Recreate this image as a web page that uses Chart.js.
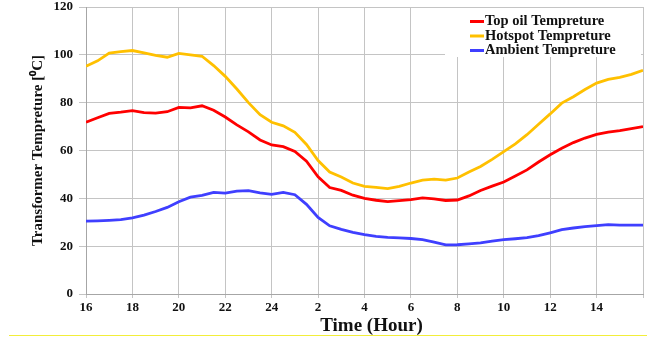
<!DOCTYPE html>
<html>
<head>
<meta charset="utf-8">
<script src="https://cdn.jsdelivr.net/npm/chart.js@4"></script>
<style>
  html, body { margin: 0; padding: 0; background: #fff; }
  #wrap { position: relative; width: 647px; height: 341px; }
  #rule { position: absolute; left: 9px; top: 335px; width: 638px; height: 0; border-top: 1px solid #f2ee3a; }
</style>
</head>
<body>
<div id="wrap">
  <canvas id="c" width="647" height="341"></canvas>
  <div id="rule"></div>
</div>
<script>
// Time of day in hours, running from 16:00 through midnight to 16:00 next day
const hours = [16,16.5,17,17.5,18,18.5,19,19.5,20,20.5,21,21.5,22,22.5,23,23.5,24,24.5,25,25.5,26,26.5,27,27.5,28,28.5,29,29.5,30,30.5,31,31.5,32,32.5,33,33.5,34,34.5,35,35.5,36,36.5,37,37.5,38,38.5,39,39.5,40];

// Temperatures in degrees C
const topOil = [71.8,73.7,75.5,76.0,76.7,75.8,75.6,76.2,78.0,77.8,78.7,76.8,74.0,70.7,67.8,64.4,62.3,61.6,59.6,55.5,49.0,44.5,43.3,41.3,40.0,39.2,38.6,39.0,39.5,40.2,39.8,39.1,39.3,41.0,43.3,45.1,46.8,49.3,51.9,55.2,58.2,60.9,63.3,65.2,66.7,67.7,68.3,69.1,70.0];
const hotspot = [95.2,97.5,100.7,101.3,101.8,100.8,99.8,99.0,100.6,100.0,99.4,95.5,91.0,85.7,80.0,75.0,71.8,70.3,67.6,62.5,55.8,51.0,48.9,46.4,45.0,44.6,44.1,45.0,46.4,47.6,48.0,47.6,48.5,51.0,53.3,56.3,59.5,62.8,66.6,71.0,75.3,79.8,82.5,85.5,88.2,89.7,90.6,91.8,93.5];
const ambient = [30.5,30.6,30.8,31.1,31.8,33.0,34.5,36.2,38.6,40.5,41.2,42.5,42.2,43.0,43.2,42.3,41.7,42.5,41.5,37.5,32.0,28.5,27.0,25.8,24.8,24.1,23.7,23.5,23.2,22.7,21.7,20.5,20.6,21.0,21.4,22.1,22.7,23.1,23.6,24.4,25.6,26.9,27.6,28.2,28.6,29.0,28.8,28.8,28.8];

// Clock labels for the x ticks (16, 18 ... 24, 2 ... 14)
const xTickLabels = ['16','18','20','22','24','2','4','6','8','10','12','14'];
const xTitle = 'Time (Hour)';

const serif = '"Liberation Serif", "Times New Roman", serif';
const pts = arr => hours.map((h, i) => ({ x: h, y: arr[i] }));

// Legend drawn inside the plot, top right, on a white box
const innerLegend = {
  id: 'innerLegend',
  afterDatasetsDraw(chart) {
    const { ctx, chartArea } = chart;
    const x0 = chartArea.right - 173;
    ctx.save();
    ctx.fillStyle = '#ffffff';
    ctx.fillRect(chartArea.right - 198, chartArea.top + 1, 196, 49);
    ctx.font = 'bold 14.5px ' + serif;
    ctx.textBaseline = 'middle';
    ctx.textAlign = 'left';
    chart.data.datasets.forEach((ds, i) => {
      const y = chartArea.top + 14.5 + i * 14.5;
      ctx.strokeStyle = ds.borderColor;
      ctx.lineWidth = 3;
      ctx.beginPath();
      ctx.moveTo(x0, y);
      ctx.lineTo(x0 + 14, y);
      ctx.stroke();
      ctx.fillStyle = '#111';
      ctx.fillText(ds.label, x0 + 15, y);
    });
    ctx.restore();
  }
};

// x-axis title, set a little right of the plot centre
const xAxisTitle = {
  id: 'xAxisTitle',
  afterDraw(chart) {
    const { ctx, chartArea } = chart;
    ctx.save();
    ctx.font = 'bold 19px ' + serif;
    ctx.fillStyle = '#111';
    ctx.textAlign = 'center';
    ctx.textBaseline = 'middle';
    ctx.fillText(xTitle, (chartArea.left + chartArea.right) / 2 + 7, chartArea.bottom + 32);
    ctx.restore();
  }
};

new Chart(document.getElementById('c'), {
  type: 'line',
  data: {
    datasets: [
      { label: 'Top oil Tempreture', data: pts(topOil), borderColor: '#ff0000', backgroundColor: '#ff0000' },
      { label: 'Hotspot Tempreture', data: pts(hotspot), borderColor: '#ffc000', backgroundColor: '#ffc000' },
      { label: 'Ambient Tempreture', data: pts(ambient), borderColor: '#3f3fff', backgroundColor: '#3f3fff' }
    ]
  },
  options: {
    responsive: false,
    devicePixelRatio: 1,
    animation: false,
    layout: { padding: { top: 7, right: 4, left: 0, bottom: 0 } },
    elements: {
      point: { radius: 0 },
      line: { borderWidth: 2.8, tension: 0 }
    },
    plugins: {
      legend: { display: false },
      tooltip: { enabled: false }
    },
    scales: {
      x: {
        type: 'linear',
        min: 16,
        max: 40,
        afterFit(s) { s.height = 47; s.paddingLeft = 0; s.paddingRight = 0; },
        ticks: {
          stepSize: 2,
          padding: 2,
          color: '#111',
          font: { family: serif, size: 13, weight: 'bold', lineHeight: 1.2 },
          maxRotation: 0,
          callback: (v, i) => xTickLabels[i] ?? ''
        },
        grid: { color: '#c4c4c4', lineWidth: 1, tickLength: 4 },
        border: { color: '#a6a6a6', width: 1 }
      },
      y: {
        min: 0,
        max: 120,
        afterFit(s) { s.width = 86; s.paddingTop = 0; s.paddingBottom = 0; },
        ticks: {
          stepSize: 20,
          padding: 6,
          color: '#111',
          font: { family: serif, size: 13, weight: 'bold', lineHeight: 1 }
        },
        grid: { color: '#c4c4c4', lineWidth: 1, tickLength: 7 },
        border: { color: '#a6a6a6', width: 1 },
        title: {
          display: true,
          text: 'Transformer Tempreture [⁰C]',
          color: '#111',
          font: { family: serif, size: 15, weight: 'bold', lineHeight: 1.2 },
          padding: { top: 29, bottom: 0 }
        }
      }
    }
  },
  plugins: [innerLegend, xAxisTitle]
});
</script>
</body>
</html>
